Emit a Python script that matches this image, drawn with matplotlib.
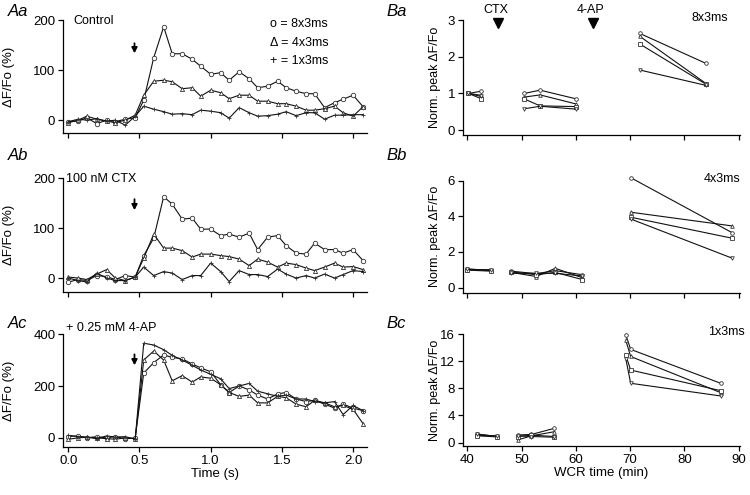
import matplotlib
matplotlib.use("Agg")
import matplotlib.pyplot as plt

plt.rcParams['font.family'] = ['Liberation Sans', 'DejaVu Sans']
plt.rcParams['font.size'] = 9

# ---- A panels: dF/Fo traces (frames at ~15 Hz) ----
time_s = [0.00, 0.07, 0.13, 0.20, 0.27, 0.33, 0.40, 0.47, 0.53, 0.60, 0.67, 0.73,
          0.80, 0.87, 0.93, 1.00, 1.07, 1.13, 1.20, 1.27, 1.33, 1.40, 1.47, 1.53,
          1.60, 1.67, 1.73, 1.80, 1.87, 1.93, 2.00, 2.07]

aa_8 = [-3, -2, 5, -7, 0, -3, 2, 5, 40, 125, 187, 133, 133, 122, 108, 92,
        95, 80, 97, 83, 65, 68, 78, 65, 58, 53, 53, 25, 35, 42, 50, 27]
aa_4 = [-5, 0, 8, 2, -2, -5, 0, 10, 50, 78, 80, 77, 63, 65, 48, 60,
        55, 43, 50, 50, 38, 38, 33, 33, 28, 20, 20, 23, 28, 15, 8, 27]
aa_1 = [-3, 2, 0, 3, -2, 0, -10, 8, 28, 22, 17, 12, 13, 11, 20, 18,
        15, 4, 25, 15, 8, 9, 12, 17, 9, 15, 15, 2, 10, 10, 11, 11]

ab_8 = [-8, -3, -5, 5, 3, -3, 5, 2, 45, 80, 163, 148, 118, 120, 98, 98,
        85, 88, 82, 90, 57, 82, 85, 65, 50, 48, 70, 57, 57, 50, 57, 35]
ab_4 = [2, 0, -3, 8, 17, 0, -5, 2, 40, 88, 60, 60, 55, 42, 48, 48,
        45, 43, 38, 25, 38, 32, 22, 30, 27, 20, 15, 22, 30, 22, 23, 17]
ab_1 = [0, -5, -8, 10, 0, -5, -5, 2, 22, 5, 13, 10, -3, 5, 5, 30,
        13, -7, 15, 7, 7, 3, 18, 8, 0, 5, 0, 8, 0, 7, 15, 13]

ac_8 = [5, 8, 0, 5, 0, 5, -3, 0, 250, 290, 320, 310, 305, 285, 270, 255,
        205, 175, 200, 185, 165, 150, 170, 175, 150, 140, 145, 130, 115, 130, 115, 105]
ac_4 = [-5, 0, 3, 0, -3, -5, 0, -3, 300, 335, 300, 220, 240, 215, 235, 230,
        205, 175, 160, 165, 135, 135, 160, 155, 130, 120, 145, 135, 120, 125, 110, 55]
ac_1 = [10, 5, 3, -3, 8, 3, 5, -5, 365, 358, 340, 318, 300, 280, 262, 245,
        228, 190, 200, 210, 180, 170, 160, 165, 150, 150, 140, 135, 140, 90, 125, 105]

# ---- B panels: normalised peak vs whole-cell recording time ----
ba_x = [[40.2, 42.5], [50.5, 53.4, 60.1], [71.8, 84.0]]
ba_y = [[[1.0, 1.06], [1.0, 0.95], [1.0, 0.86], [1.0, 0.92]],
        [[1.0, 1.09, 0.85], [0.9, 0.96, 0.71], [0.85, 0.66, 0.64], [0.58, 0.65, 0.57]],
        [[2.64, 1.82], [2.56, 1.27], [2.35, 1.25], [1.64, 1.22]]]

bb_x = [[40.0, 44.4], [48.1, 52.7, 56.2, 61.2], [70.1, 88.8]]
bb_y = [[[1.05, 0.95], [1.0, 0.98], [0.98, 0.92], [1.02, 1.0]],
        [[0.92, 0.78, 0.95, 0.72], [0.85, 0.62, 1.08, 0.55],
         [0.88, 0.72, 0.85, 0.45], [0.80, 0.80, 0.80, 0.65]],
        [[6.17, 3.08], [4.23, 3.46], [3.95, 2.77], [3.85, 1.65]]]

bc_x = [[41.7, 45.4], [49.3, 51.8, 56.0], [69.2, 70.1, 86.7]]
bc_y = [[[1.28, 0.9], [1.1, 1.0], [1.0, 0.85], [1.2, 0.95]],
        [[1.13, 1.2, 2.1], [0.4, 1.0, 1.6], [0.9, 1.1, 0.9], [1.0, 0.9, 0.8]],
        [[15.9, 13.75, 8.75], [15.1, 12.7, 7.37], [12.9, 10.7, 7.66], [12.4, 8.75, 6.88]]]

W, H = 750.0, 495.0


def fx(px):
    return px / W


def fy(py):
    return 1 - py / H


def style(ax):
    ax.spines['top'].set_visible(False)
    ax.spines['right'].set_visible(False)
    for s in ('left', 'bottom'):
        ax.spines[s].set_linewidth(0.9)
    ax.tick_params(direction='out', length=3.5, width=0.9, labelsize=9.5, pad=2)


fig = plt.figure(figsize=(7.5, 4.95), dpi=100)

left_pos = [[0.084, 0.731, 0.405, 0.228],
            [0.084, 0.410, 0.405, 0.230],
            [0.084, 0.097, 0.405, 0.228]]
left_data = [(aa_8, aa_4, aa_1), (ab_8, ab_4, ab_1), (ac_8, ac_4, ac_1)]
left_ylim = [(-26, 200), (-28, 200), (-35, 400)]
left_ticks = [[0, 100, 200], [0, 100, 200], [0, 200, 400]]
arrows = [(154, 134), (158, 136), (322, 280)]

for i in range(3):
    ax = fig.add_axes(left_pos[i])
    s8, s4, s1 = left_data[i]
    ax.plot(time_s, s8, '-', color='#111111', lw=0.8, marker='o', ms=3.2,
            mfc='white', mec='#333333', mew=0.6)
    ax.plot(time_s, s4, '-', color='#111111', lw=0.8, marker='^', ms=3.0,
            mfc='white', mec='#333333', mew=0.6)
    ax.plot(time_s, s1, '-', color='#111111', lw=0.8, marker='+', ms=3.5,
            mec='#333333', mew=0.6)
    ax.set_xlim(-0.037, 2.096)
    ax.set_ylim(*left_ylim[i])
    ax.set_yticks(left_ticks[i])
    ax.set_xticks([0.0, 0.5, 1.0, 1.5, 2.0])
    style(ax)
    if i < 2:
        ax.set_xticklabels([])
    else:
        ax.set_xticklabels(['0.0', '0.5', '1.0', '1.5', '2.0'])
        ax.set_xlabel('Time (s)', fontsize=9.5, labelpad=1)
    ax.set_ylabel('ΔF/Fo (%)', fontsize=9.5)
    ax.yaxis.set_label_coords(-0.158, 0.5)
    tail, tip = arrows[i]
    ax.annotate('', xy=(0.465, tip), xytext=(0.465, tail),
                arrowprops=dict(arrowstyle='-|>,head_length=0.35,head_width=0.18',
                                color='black', lw=1.3, shrinkA=0, shrinkB=0))

right_pos = [[0.617, 0.727, 0.370, 0.232],
             [0.617, 0.409, 0.370, 0.226],
             [0.617, 0.099, 0.370, 0.226]]
right_data = [(ba_x, ba_y), (bb_x, bb_y), (bc_x, bc_y)]
right_ylim = [(-0.14, 3), (-0.28, 6), (-0.5, 16)]
right_ticks = [[0, 1, 2, 3], [0, 2, 4, 6], [0, 4, 8, 12, 16]]
cell_markers = ['o', '^', 's', 'v']

for i in range(3):
    ax = fig.add_axes(right_pos[i])
    xs, ys = right_data[i]
    for gx, gy in zip(xs, ys):
        for k, line in enumerate(gy):
            ax.plot(gx, line, '-', color='#111111', lw=0.8,
                    marker=cell_markers[k], ms=2.6, mfc='white',
                    mec='#333333', mew=0.6, clip_on=False)
    ax.set_xlim(39.15, 90.3)
    ax.set_ylim(*right_ylim[i])
    ax.set_yticks(right_ticks[i])
    ax.set_xticks([40, 50, 60, 70, 80, 90])
    style(ax)
    if i < 2:
        ax.set_xticklabels([])
    else:
        ax.set_xlabel('WCR time (min)', fontsize=9.5, labelpad=1)
    ax.set_ylabel('Norm. peak ΔF/Fo', fontsize=9)
    ax.yaxis.set_label_coords(-0.078, 0.5)
    if i == 0:
        for xm, lab in [(45.6, 'CTX'), (63.1, '4-AP')]:
            ax.plot([xm], [2.92], marker='v', color='black', ms=7, clip_on=False)
            ax.text(xm - 0.3, 3.27, lab, ha='center', va='center', fontsize=9)

# panel letters
for lab, px, py in [('Aa', 8, 12), ('Ab', 8, 156), ('Ac', 8, 323),
                    ('Ba', 386, 12), ('Bb', 386, 156), ('Bc', 386, 323)]:
    fig.text(fx(px), fy(py), lab, fontsize=12, style='italic', va='center', ha='left')

# condition labels
fig.text(fx(73), fy(21), 'Control', fontsize=9, va='center')
fig.text(fx(66), fy(179), '100 nM CTX', fontsize=9, va='center')
fig.text(fx(66), fy(328), '+ 0.25 mM 4-AP', fontsize=9, va='center')

# stimulus legend
fig.text(fx(270), fy(24), 'o = 8x3ms', fontsize=9, va='center')
fig.text(fx(270), fy(43), 'Δ = 4x3ms', fontsize=9, va='center')
fig.text(fx(270), fy(61), '+ = 1x3ms', fontsize=9, va='center')

fig.text(fx(728), fy(18), '8x3ms', fontsize=9, va='center', ha='right')
fig.text(fx(740), fy(179), '4x3ms', fontsize=9, va='center', ha='right')
fig.text(fx(745), fy(332), '1x3ms', fontsize=9, va='center', ha='right')

fig.savefig('out.png', dpi=100)
plt.close(fig)
